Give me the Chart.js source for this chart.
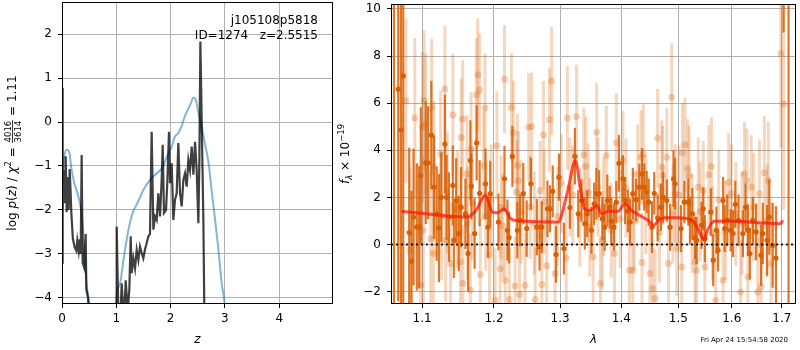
<!DOCTYPE html>
<html>
<head>
<meta charset="utf-8">
<script src="https://cdn.jsdelivr.net/npm/chart.js@4.4.1/dist/chart.umd.min.js"></script>
<style>
html,body{margin:0;padding:0;background:#fff;overflow:hidden;width:800px;height:350px;}
#left{position:absolute;left:0;top:0;}
#right{position:absolute;left:335px;top:0;}
</style>
</head>
<body>
<canvas id="left" width="340" height="350"></canvas>
<canvas id="right" width="465" height="350"></canvas>
<script>
// ---------------- Left panel data ----------------
const zTicks = [0, 1, 2, 3, 4];
const logpTicks = [-4, -3, -2, -1, 0, 1, 2];

// smooth p(z) curve (blue)
const pzZ = [0.0,0.02,0.05,0.09,0.14,0.17,0.23,0.29,0.33,0.36,0.39,0.42,0.45,0.50,0.56,0.95,1.00,1.07,1.13,1.19,1.25,1.31,1.37,1.43,1.50,1.62,1.74,1.86,1.93,2.02,2.08,2.14,2.20,2.26,2.36,2.42,2.46,2.51,2.57,2.63,2.70,2.76,2.82,2.88,2.94,2.99,3.05];
const pzLogP = [-1.6,-1.0,-0.72,-0.63,-0.72,-1.03,-1.41,-1.64,-1.86,-2.07,-2.52,-3.15,-3.67,-4.14,-5.5,-5.5,-4.0,-3.67,-3.15,-2.68,-2.3,-2.04,-1.89,-1.73,-1.54,-1.32,-1.17,-1.02,-0.79,-0.56,-0.33,-0.26,-0.1,0.12,0.39,0.55,0.52,0.23,-0.1,-0.48,-0.94,-1.62,-2.23,-2.9,-3.67,-4.1,-5.5];

// chi2 based curve (dark)
const chiZ = [0.000,0.008,0.016,0.030,0.050,0.067,0.086,0.104,0.123,0.141,0.160,0.172,0.200,0.233,0.264,0.282,0.307,0.325,0.344,0.362,0.380,0.405,0.436,0.448,0.479,0.500,0.520,0.980,0.995,1.007,1.037,1.080,1.099,1.130,1.150,1.173,1.210,1.240,1.265,1.283,1.314,1.345,1.375,1.406,1.436,1.467,1.498,1.528,1.559,1.590,1.620,1.651,1.682,1.713,1.743,1.774,1.805,1.835,1.854,1.878,1.915,1.940,1.970,1.989,2.020,2.050,2.081,2.112,2.142,2.173,2.204,2.235,2.265,2.296,2.327,2.357,2.388,2.419,2.450,2.480,2.511,2.529,2.548,2.572,2.603,2.621,2.700];
const chiLogP = [-3.2,0.78,-2.1,-1.1,-1.85,-0.78,-2.05,-1.25,-2.0,-1.07,-1.64,-2.07,-2.65,-2.85,-2.93,-2.7,-2.93,-2.67,-3.0,-0.75,-3.2,-3.3,-2.55,-3.8,-4.0,-4.4,-7,-7,-4.3,-2.38,-4.3,-4.3,-3.67,-4.3,-4.3,-3.6,-4.3,-3.8,-2.6,-3.44,-3.1,-3.33,-2.91,-3.14,-2.83,-2.98,-3.1,-2.9,-2.76,-2.6,-2.55,-0.22,-2.45,-2.15,-2.23,-1.62,-2.15,-1.32,-0.52,-2.07,-2.0,-1.35,-0.22,-1.39,-0.94,-2.23,-1.77,-1.62,-0.48,-1.62,-1.92,-1.32,-1.17,-1.47,-0.86,-1.09,-0.56,-1.2,-0.45,-1.1,-2.3,-0.9,1.83,0.05,-2.23,-4.3,-7];

// ---------------- Right panel data ----------------
const lamTicks = [1.1, 1.2, 1.3, 1.4, 1.5, 1.6, 1.7];
const fluxTicks = [-2, 0, 2, 4, 6, 8, 10];

const specDarkLam = [
1.0632,1.0687,1.0722,1.0752,1.0830,1.0861,1.0887,1.0930,1.0961,1.0983,
1.1049,1.1080,1.1124,1.1160,1.1196,1.1227,1.1259,1.1308,1.1331,1.1363,
1.1417,1.1431,1.1463,1.1499,1.1532,1.1592,1.1630,1.1662,1.1676,1.1722,
1.1751,1.1793,1.1878,1.1913,1.1945,1.2065,1.2153,1.2197,1.2221,1.2270,
1.2344,1.2384,1.2433,1.2484,1.2548,1.2639,1.2680,1.2715,1.2802,1.2842,
1.2884,1.2935,1.2982,1.3060,1.3155,1.3234,1.3288,1.3341,1.3394,1.3432,
1.3502,1.3546,1.3583,1.3627,1.3682,1.3720,1.3764,1.3802,1.3830,1.3875,
1.3914,1.3959,1.4026,1.4064,1.4110,1.4149,1.4195,1.4251,1.4307,1.4354,
1.4393,1.4435,1.4470,1.4528,1.4568,1.4628,1.4686,1.4727,1.4791,1.4850,
1.4911,1.4940,1.5048,1.5109,1.5182,1.5211,1.5255,1.5303,1.5334,1.5426,
1.5458,1.5488,1.5600,1.5645,1.5706,1.5738,1.5833,1.5864,1.5915,1.5979,
1.6025,1.6069,1.6133,1.6218,1.6269,1.6316,1.6355,1.6414,1.6479,1.6579,
1.6613,1.6698,1.6745,1.6813,1.6880,1.7036,1.7139];
const specDarkFlux = [
12,6.60,4.87,7.16,0.51,-0.71,1.17,0.75,0.74,2.93,
3.47,3.47,4.65,2.44,1.31,0.70,2.01,4.27,2.01,1.17,
2.51,0.18,1.87,0.47,1.59,1.31,-0.38,3.57,2.48,0.47,
4.32,2.18,2.58,0.74,2.16,0.96,2.79,0.61,0.30,3.74,
0.61,1.03,2.16,0.68,2.58,0.74,-0.10,0.74,1.52,1.52,
2.26,-0.42,2.86,-0.17,1.57,3.75,1.31,1.87,0.89,1.31,
0.61,1.73,2.16,2.16,1.10,0.74,1.87,1.59,0.99,0.74,
1.80,3.45,2.79,1.87,1.42,0.96,2.16,1.90,2.44,3.00,
2.44,2.23,1.80,0.74,2.18,1.13,1.59,2.01,1.87,0.74,
2.79,2.58,0.68,1.80,1.80,1.03,1.31,0.28,0.18,0.82,
1.52,0.25,1.38,-0.66,0.61,-0.24,1.87,0.68,1.03,0.61,
0.47,1.71,1.03,0.47,1.59,0.61,-0.38,1.03,0.54,-0.45,
0.47,0.18,1.17,-0.03,-0.57,15,12];
const specDarkErr = [
20,9,9,10,3.6,3.0,2.9,2.7,2.6,2.9,
2.6,2.4,2.3,2.2,2.0,2.3,1.9,2.1,1.8,1.9,
1.7,1.6,1.8,1.6,1.7,1.5,1.6,1.7,1.4,1.5,
1.6,1.4,1.5,1.3,1.4,1.2,1.4,1.3,1.1,1.3,
1.2,1.1,1.3,1.2,1.1,1.2,1.0,1.1,1.2,1.0,
1.1,1.2,1.0,1.1,0.9,1.2,1.0,0.9,1.1,1.0,
1.0,0.9,1.1,1.0,0.9,1.0,1.1,0.9,1.0,1.0,
0.9,1.2,1.0,1.0,0.9,1.0,1.1,0.9,1.0,1.1,
1.0,0.9,1.0,1.1,0.9,1.0,1.0,1.1,0.9,1.0,
1.2,1.1,1.0,0.9,1.0,1.0,1.1,0.9,1.0,1.0,
0.9,1.0,1.0,1.1,1.0,0.9,1.0,1.0,1.1,0.9,
1.0,1.0,1.1,1.0,1.0,1.1,1.1,1.0,1.2,1.3,
1.3,1.5,1.6,1.8,2.2,6,20];

const specLightLam = [
1.0787,1.0843,1.0904,1.0983,1.1005,1.1016,1.1026,1.1049,1.1115,1.1128,
1.1151,1.1160,1.1250,1.1263,1.1308,1.1318,1.1385,1.1417,1.1522,1.1532,
1.1554,1.1559,1.1614,1.1662,1.1672,1.1690,1.1746,1.1766,1.1793,1.1803,
1.1850,1.1870,1.1935,1.1960,1.2017,1.2042,1.2090,1.2104,1.2153,1.2163,
1.2225,1.2255,1.2285,1.2310,1.2332,1.2347,1.2359,1.2376,1.2459,1.2514,
1.2538,1.2559,1.2613,1.2689,1.2715,1.2740,1.2791,1.2833,1.2868,1.2920,
1.3095,1.3114,1.3155,1.3261,1.3314,1.3378,1.3410,1.3474,1.3530,1.3588,
1.3611,1.3649,1.3682,1.3747,1.3830,1.3885,1.3914,1.4026,1.4137,1.4195,
1.4280,1.4337,1.4354,1.4377,1.4492,1.4539,1.4584,1.4628,1.4703,1.4715,
1.4791,1.4821,1.4880,1.4940,1.4970,1.5061,1.5073,1.5121,1.5169,1.5197,
1.5303,1.5334,1.5365,1.5458,1.5488,1.5563,1.5613,1.5632,1.5693,1.5833,
1.5940,1.5992,1.6172,1.6250,1.6296,1.6316,1.6381,1.6513,1.6545,1.6579,
1.6645,1.6725,1.6779,1.6980,1.7036,
1.1340,1.1480,1.1620,1.1880,1.2130,1.2400,1.2600,1.2750,1.2960,1.3020,
1.3200,1.3450,1.3700,1.3980,1.4080,1.4220,1.4420,1.4660,1.4900,1.5010,
1.5250,1.5400,1.5750,1.5880,1.6080,1.6200,1.6430,1.6700];
const specLightFlux = [
6.10,-0.24,5.37,-1.72,4.98,0.61,6.10,5.12,0.25,5.82,
-0.38,3.28,3.85,1.20,6.60,0.18,-0.80,5.50,-0.74,4.55,
5.33,-1.65,3.00,-1.93,4.06,1.73,6.35,7.21,6.56,-1.27,
3.36,5.80,-0.45,1.95,-2.36,4.20,-1.02,1.59,7.02,-1.51,
-2.33,5.82,4.76,-1.76,2.23,3.36,2.72,-2.12,-1.72,4.98,
1.59,5.01,-2.33,2.30,-1.69,4.65,-0.90,5.30,6.94,-1.23,
-0.57,5.37,2.44,5.44,1.17,3.81,3.33,0.74,-0.52,4.77,
2.44,-1.65,0.18,3.78,0.61,-0.38,4.32,3.57,-1.09,-1.09,
3.00,3.71,-0.76,3.85,-1.23,-1.86,-2.29,4.51,3.28,2.93,
3.71,-0.80,6.25,2.16,-0.17,-0.95,3.89,4.24,3.22,2.93,
-0.74,-1.09,2.44,2.30,-0.95,2.98,3.31,0.47,-2.36,-1.51,
2.65,2.16,-2.01,3.00,2.72,-1.37,2.44,-2.01,2.16,-1.79,
3.05,2.72,-0.80,8.11,5.97,
2.2,1.5,0.9,1.2,0.8,1.4,0.9,1.8,1.2,2.6,
2.1,2.2,1.6,1.1,2.4,1.0,1.7,0.5,1.3,2.1,
0.9,1.4,1.9,0.6,1.3,0.9,1.6,1.0];
const specLightErr = [
3.5,3.5,3.4,3.2,3.2,3.2,3.0,3.0,2.9,2.9,
2.8,2.8,2.7,2.7,2.7,2.6,2.6,2.6,2.5,2.5,
2.5,2.5,2.5,2.4,2.4,2.4,2.4,2.4,2.4,2.4,
2.3,2.3,2.3,2.3,2.2,2.3,2.2,2.2,2.3,2.2,
2.2,2.3,2.2,2.1,2.2,2.2,2.1,2.2,2.2,2.3,
2.2,2.3,2.2,2.1,2.2,2.3,2.1,2.2,2.3,2.2,
2.1,2.2,2.1,2.2,2.1,2.0,2.1,2.1,2.0,2.1,
2.1,2.0,2.1,2.1,2.0,2.1,2.1,2.1,2.0,2.1,
2.1,2.0,2.1,2.1,2.1,2.0,2.1,2.1,2.0,2.1,
2.1,2.0,2.3,2.1,2.0,2.1,2.1,2.0,2.1,2.1,
2.1,2.0,2.1,2.1,2.0,2.1,2.1,2.0,2.1,2.1,
2.1,2.1,2.2,2.2,2.2,2.2,2.2,2.3,2.3,2.3,
2.4,2.5,2.6,4.0,4.5,
2.6,2.5,2.4,2.3,2.2,2.2,2.2,2.2,2.1,2.1,
2.1,2.1,2.1,2.1,2.1,2.1,2.1,2.1,2.1,2.1,
2.1,2.1,2.1,2.1,2.2,2.2,2.3,2.4];

const modelLam = [1.0731,1.1602,1.1742,1.1874,1.1979,1.2051,1.2148,1.2246,1.2418,1.2977,1.3030,1.3134,1.3240,1.3319,1.3389,1.3480,1.3589,1.3670,1.3780,1.3946,1.4059,1.4172,1.4314,1.4458,1.4562,1.4632,1.4750,1.4988,1.5231,1.5322,1.5402,1.5476,1.5538,1.5663,1.5916,1.6565,1.6968,1.7022];
const modelFlux = [1.42,1.17,1.45,2.09,1.38,1.35,1.52,1.10,1.00,0.96,1.31,2.44,3.57,2.44,1.52,1.45,1.66,1.31,1.42,1.42,1.73,1.45,1.24,1.03,0.82,1.00,1.14,1.14,1.06,0.82,0.47,0.21,0.61,0.99,1.00,0.92,0.89,1.03];

const zeroLam = [1.0594, 1.7294];
const zeroFlux = [0, 0];

const idName = 'j105108p5818';
const idLine = 'ID=1274   z=2.5515';
const stamp = 'Fri Apr 24 15:54:58 2020';

// ---------------- helpers ----------------
const FAM = "'DejaVu Sans', sans-serif";
Chart.defaults.font.family = FAM;
Chart.defaults.font.size = 12;
Chart.defaults.color = '#000';

const pts = (xs, ys) => xs.map((x, i) => ({x: x, y: ys[i]}));
const fmtInt = v => (v < 0 ? '\u2212' + Math.abs(v) : String(v));
const fixTicks = vals => scale => { scale.ticks = vals.map(v => ({value: v})); };
const gridOpts = {color: '#b0b0b0', lineWidth: 1, tickColor: '#000', tickLength: 4, drawTicks: true};

const framePlugin = {
  id: 'frame',
  afterDraw(chart) {
    const {ctx, chartArea: a} = chart;
    ctx.save();
    ctx.strokeStyle = '#000';
    ctx.lineWidth = 1;
    ctx.strokeRect(Math.round(a.left) + 0.5, Math.round(a.top) + 0.5,
                   Math.round(a.right) - Math.round(a.left) - 1, Math.round(a.bottom) - Math.round(a.top) - 1);
    ctx.restore();
  }
};

function drawRotated(ctx, cx, cy, parts) {
  let total = 0;
  parts.forEach(p => {
    ctx.font = p.font;
    if (p.frac) {
      p.w = Math.max(ctx.measureText(p.frac[0]).width, ctx.measureText(p.frac[1]).width) + 2;
    } else {
      p.w = ctx.measureText(p.t).width;
    }
    total += p.w;
  });
  ctx.save();
  ctx.translate(cx, cy);
  ctx.rotate(-Math.PI / 2);
  ctx.fillStyle = '#000';
  ctx.textBaseline = 'alphabetic';
  let x = -total / 2;
  parts.forEach(p => {
    ctx.font = p.font;
    if (p.frac) {
      ctx.textAlign = 'center';
      ctx.fillText(p.frac[0], x + p.w / 2, p.numY);
      ctx.fillText(p.frac[1], x + p.w / 2, p.denY);
      ctx.fillRect(x + 0.5, p.barY, p.w - 1, 0.8);
    } else {
      ctx.textAlign = 'left';
      ctx.fillText(p.t, x, p.dy || 0);
    }
    x += p.w;
  });
  ctx.restore();
}

const N = '12px ' + FAM, I = 'italic 12px ' + FAM, S = '8.5px ' + FAM, SI = 'italic 8.5px ' + FAM;

const leftLabels = {
  id: 'leftLabels',
  afterDraw(chart) {
    const {ctx, chartArea: a} = chart;
    drawRotated(ctx, 16, (a.top + a.bottom) / 2, [
      {t: 'log ', font: N}, {t: 'p', font: I}, {t: '(', font: N}, {t: 'z', font: I}, {t: ') / ', font: N},
      {t: '\u03c7', font: I}, {t: '2', font: S, dy: -5}, {t: ' = ', font: N},
      {frac: ['4016', '3614'], font: S, numY: -5, denY: 5, barY: -4},
      {t: ' = 1.11', font: N}
    ]);
    ctx.save();
    ctx.font = N;
    ctx.fillStyle = '#000';
    ctx.textAlign = 'right';
    ctx.textBaseline = 'alphabetic';
    ctx.fillText(idName, 318, 24);
    ctx.fillText(idLine, 318, 38.5);
    ctx.restore();
  }
};

const rightLabels = {
  id: 'rightLabels',
  afterDraw(chart) {
    const {ctx, chartArea: a} = chart;
    drawRotated(ctx, 14, (a.top + a.bottom) / 2, [
      {t: 'f', font: I}, {t: '\u03bb', font: SI, dy: 2.5}, {t: ' \u00d7 10', font: N}, {t: '\u221219', font: S, dy: -5}
    ]);
    ctx.save();
    ctx.font = '7px ' + FAM;
    ctx.fillStyle = '#000';
    ctx.textAlign = 'right';
    ctx.textBaseline = 'alphabetic';
    ctx.fillText(stamp, 453, 342);
    ctx.restore();
  }
};

const errorBars = {
  id: 'errorBars',
  beforeDatasetDraw(chart, args) {
    const ds = chart.data.datasets[args.index];
    if (!ds.errors) return;
    const {ctx, chartArea: a} = chart;
    const ys = chart.scales.y;
    ctx.save();
    ctx.beginPath();
    ctx.rect(a.left, a.top, a.right - a.left, a.bottom - a.top);
    ctx.clip();
    ctx.strokeStyle = ds.errorColor;
    ctx.lineWidth = ds.errorWidth;
    ctx.lineCap = 'butt';
    args.meta.data.forEach((el, i) => {
      const v = ds.data[i].y, e = ds.errors[i];
      ctx.beginPath();
      ctx.moveTo(el.x, ys.getPixelForValue(v - e));
      ctx.lineTo(el.x, ys.getPixelForValue(v + e));
      ctx.stroke();
    });
    ctx.restore();
  }
};

// ---------------- Left chart ----------------
new Chart(document.getElementById('left'), {
  type: 'scatter',
  data: {
    datasets: [
      {label: 'chi2', data: pts(chiZ, chiLogP), showLine: true, borderColor: 'rgba(0,0,0,0.75)',
       borderWidth: 2.2, pointRadius: 0, tension: 0, order: 1},
      {label: 'pz', data: pts(pzZ, pzLogP), showLine: true, borderColor: 'rgba(31,119,180,0.55)',
       borderWidth: 2, pointRadius: 0, cubicInterpolationMode: 'monotone', order: 2}
    ]
  },
  options: {
    responsive: false, animation: false, events: [],
    layout: {padding: {left: 0, right: 7, top: 2, bottom: 3}},
    plugins: {legend: {display: false}, tooltip: {enabled: false}},
    scales: {
      x: {
        type: 'linear', min: 0, max: 4.99,
        afterBuildTicks: fixTicks(zTicks),
        afterFit(s) { s.height = 43; s.paddingLeft = 0; s.paddingRight = 0; },
        ticks: {callback: v => fmtInt(v), padding: 4, maxRotation: 0, autoSkip: false, color: '#000'},
        grid: gridOpts, border: {display: false},
        title: {display: true, text: 'z', font: {size: 12, style: 'italic'}, padding: 0, color: '#000'}
      },
      y: {
        type: 'linear', min: -4.14, max: 2.73,
        afterBuildTicks: fixTicks(logpTicks),
        afterFit(s) { s.width = 62; s.paddingTop = 0; s.paddingBottom = 0; },
        ticks: {callback: v => fmtInt(v), padding: 6, autoSkip: false, color: '#000'},
        grid: gridOpts, border: {display: false}
      }
    }
  },
  plugins: [framePlugin, leftLabels]
});

// ---------------- Right chart ----------------
new Chart(document.getElementById('right'), {
  type: 'scatter',
  data: {
    datasets: [
      {label: 'light', data: pts(specLightLam, specLightFlux), errors: specLightErr,
       errorColor: 'rgba(217,95,2,0.25)', errorWidth: 3,
       pointRadius: 3.5, pointBackgroundColor: 'rgba(217,95,2,0.28)', pointBorderWidth: 0, order: 4},
      {label: 'dark', data: pts(specDarkLam, specDarkFlux), errors: specDarkErr,
       errorColor: 'rgba(217,95,2,0.85)', errorWidth: 2.2,
       pointRadius: 2.6, pointBackgroundColor: 'rgb(217,95,2)', pointBorderWidth: 0, order: 3},
      {label: 'model', data: pts(modelLam, modelFlux), showLine: true, borderColor: 'rgba(255,20,0,0.72)',
       borderWidth: 3, pointRadius: 0, cubicInterpolationMode: 'monotone', order: 2},
      {label: 'zero', data: pts(zeroLam, zeroFlux), showLine: true, borderColor: 'rgba(0,0,0,0.85)',
       borderWidth: 2, borderDash: [2, 3], pointRadius: 0, order: 1}
    ]
  },
  options: {
    responsive: false, animation: false, events: [],
    layout: {padding: {left: 0, right: 1, top: 2, bottom: 3}},
    plugins: {legend: {display: false}, tooltip: {enabled: false}},
    scales: {
      x: {
        type: 'logarithmic', min: 1.0594, max: 1.7294,
        afterBuildTicks: fixTicks(lamTicks),
        afterFit(s) { s.height = 43; s.paddingLeft = 0; s.paddingRight = 0; },
        ticks: {callback: v => Number(v).toFixed(1), padding: 4, maxRotation: 0, autoSkip: false, color: '#000'},
        grid: gridOpts, border: {display: false},
        title: {display: true, text: '\u03bb', font: {size: 12, style: 'italic'}, padding: 0, color: '#000'}
      },
      y: {
        type: 'linear', min: -2.52, max: 10.21,
        afterBuildTicks: fixTicks(fluxTicks),
        afterFit(s) { s.width = 56; s.paddingTop = 0; s.paddingBottom = 0; },
        ticks: {callback: v => fmtInt(v), padding: 6, autoSkip: false, color: '#000'},
        grid: gridOpts, border: {display: false}
      }
    }
  },
  plugins: [framePlugin, errorBars, rightLabels]
});
</script>
</body>
</html>
